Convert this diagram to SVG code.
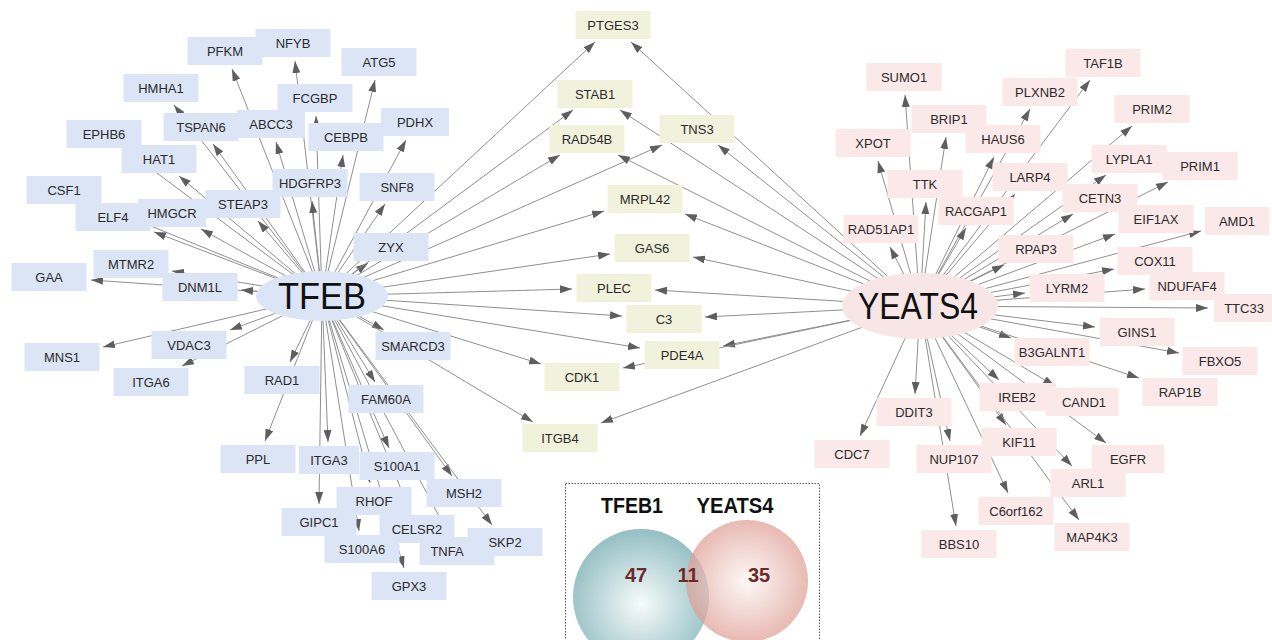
<svg xmlns="http://www.w3.org/2000/svg" width="1272" height="640" viewBox="0 0 1272 640">
<defs>
<marker id="ah" viewBox="0 0 12 8" refX="12" refY="4" markerWidth="12" markerHeight="8" markerUnits="userSpaceOnUse" orient="auto"><path d="M0,0 L12,4 L0,8 z" fill="#5e5e5e"/></marker>
<radialGradient id="gl" cx="0.5" cy="0.55" r="0.55"><stop offset="0" stop-color="#f7fbfb"/><stop offset="1" stop-color="#94bfc3"/></radialGradient>
<radialGradient id="gr" cx="0.5" cy="0.5" r="0.55"><stop offset="0" stop-color="#fdf6f4"/><stop offset="1" stop-color="#dc968b"/></radialGradient>
<style>
.e{stroke:#8f8f8f;stroke-width:1;fill:none;marker-end:url(#ah)}
.b rect{fill:#dce5f6}
.y rect{fill:#f1f2dc}
.p rect{fill:#fbe8e8}
text{font-family:"Liberation Sans",Arial,sans-serif;font-size:13px;fill:#2b2b2b;text-anchor:middle}
.hub{font-size:36px;fill:#111}
.vt{font-size:22px;font-weight:bold;fill:#111}
.vn{font-size:20px;font-weight:bold;fill:#6b2b2b}
</style>
</defs>
<rect width="1272" height="640" fill="#fff"/>
<g id="connectors">
<path class="e" d="M322,296L232,69"/><path class="e" d="M322,296L295,61"/><path class="e" d="M322,296L375,80"/><path class="e" d="M322,296L174,105"/><path class="e" d="M322,296L316,116"/><path class="e" d="M322,296L213,144"/><path class="e" d="M322,296L276,142"/><path class="e" d="M322,296L126,150"/><path class="e" d="M322,296L343,155"/><path class="e" d="M322,296L406,140"/><path class="e" d="M322,296L179,176"/><path class="e" d="M322,296L102,206"/><path class="e" d="M322,296L312,201"/><path class="e" d="M322,296L385,204"/><path class="e" d="M322,296L258,221"/><path class="e" d="M322,296L201,229"/><path class="e" d="M322,296L154,232"/><path class="e" d="M322,296L368,263"/><path class="e" d="M322,296L91,280"/><path class="e" d="M322,296L172,271"/><path class="e" d="M322,296L241,290"/><path class="e" d="M322,296L230,330"/><path class="e" d="M322,296L103,347"/><path class="e" d="M322,296L182,366"/><path class="e" d="M322,296L384,330"/><path class="e" d="M322,296L290,362"/><path class="e" d="M322,296L375,382"/><path class="e" d="M322,296L265,441"/><path class="e" d="M322,296L328,442"/><path class="e" d="M322,296L389,448"/><path class="e" d="M322,296L452,476"/><path class="e" d="M322,296L370,483"/><path class="e" d="M322,296L319,504"/><path class="e" d="M322,296L410,511"/><path class="e" d="M322,296L492,525"/><path class="e" d="M322,296L359,531"/><path class="e" d="M322,296L448,533"/><path class="e" d="M322,296L404,568"/>
<path class="e" d="M322,296L595,42"/><path class="e" d="M322,296L573,110"/><path class="e" d="M322,296L560,155"/><path class="e" d="M322,296L662,145"/><path class="e" d="M322,296L604,211"/><path class="e" d="M322,296L610,254"/><path class="e" d="M322,296L572,289"/><path class="e" d="M322,296L622,316"/><path class="e" d="M322,296L640,348"/><path class="e" d="M322,296L541,364"/><path class="e" d="M322,296L533,422"/>
<path class="e" d="M920,306L631,42"/><path class="e" d="M920,306L620,110"/><path class="e" d="M920,306L618,155"/><path class="e" d="M920,306L718,145"/><path class="e" d="M920,306L685,214"/><path class="e" d="M920,306L693,257"/><path class="e" d="M920,306L655,290"/><path class="e" d="M920,306L705,317"/><path class="e" d="M920,306L723,346"/><path class="e" d="M920,306L623,368"/><path class="e" d="M920,306L601,423"/>
<path class="e" d="M920,306L1090,80"/><path class="e" d="M920,306L905,95"/><path class="e" d="M920,306L1030,109"/><path class="e" d="M920,306L1132,126"/><path class="e" d="M920,306L946,137"/><path class="e" d="M920,306L878,161"/><path class="e" d="M920,306L994,157"/><path class="e" d="M920,306L1106,175"/><path class="e" d="M920,306L1168,182"/><path class="e" d="M920,306L926,202"/><path class="e" d="M920,306L1015,194"/><path class="e" d="M920,306L1073,214"/><path class="e" d="M920,306L966,228"/><path class="e" d="M920,306L890,247"/><path class="e" d="M920,306L1115,234"/><path class="e" d="M920,306L1201,231"/><path class="e" d="M920,306L1004,265"/><path class="e" d="M920,306L1114,269"/><path class="e" d="M920,306L1025,293"/><path class="e" d="M920,306L1145,289"/><path class="e" d="M920,306L1208,308"/><path class="e" d="M920,306L1095,327"/><path class="e" d="M920,306L1011,338"/><path class="e" d="M920,306L1179,353"/><path class="e" d="M920,306L1139,378"/><path class="e" d="M920,306L999,380"/><path class="e" d="M920,306L1055,386"/><path class="e" d="M920,306L915,394"/><path class="e" d="M920,306L860,436"/><path class="e" d="M920,306L950,441"/><path class="e" d="M920,306L1006,425"/><path class="e" d="M920,306L1106,443"/><path class="e" d="M920,306L1072,466"/><path class="e" d="M920,306L1008,493"/><path class="e" d="M920,306L1079,520"/><path class="e" d="M920,306L956,526"/>
</g>
<g id="TFEB"><ellipse cx="322" cy="296" rx="66" ry="25" fill="#dce5f6"/><text class="hub" x="322" y="309" textLength="88" lengthAdjust="spacingAndGlyphs">TFEB</text></g>
<g id="YEATS4-hub"><ellipse cx="920" cy="306" rx="78" ry="33" fill="#f8e6e6"/><text class="hub" x="918" y="319" textLength="120" lengthAdjust="spacingAndGlyphs">YEATS4</text></g>
<g id="n-PFKM" class="b"><rect x="187.5" y="37" width="75" height="28"/><text x="225" y="55.5">PFKM</text></g>
<g id="n-NFYB" class="b"><rect x="255.5" y="29" width="75" height="28"/><text x="293" y="47.5">NFYB</text></g>
<g id="n-ATG5" class="b"><rect x="341.5" y="48" width="75" height="28"/><text x="379" y="66.5">ATG5</text></g>
<g id="n-HMHA1" class="b"><rect x="123.5" y="74" width="75" height="28"/><text x="161" y="92.5">HMHA1</text></g>
<g id="n-FCGBP" class="b"><rect x="277.5" y="84" width="75" height="28"/><text x="315" y="102.5">FCGBP</text></g>
<g id="n-TSPAN6" class="b"><rect x="163.5" y="113" width="75" height="28"/><text x="201" y="131.5">TSPAN6</text></g>
<g id="n-ABCC3" class="b"><rect x="237" y="110" width="68" height="28"/><text x="271" y="128.5">ABCC3</text></g>
<g id="n-EPHB6" class="b"><rect x="66.5" y="120" width="75" height="28"/><text x="104" y="138.5">EPHB6</text></g>
<g id="n-CEBPB" class="b"><rect x="308.5" y="123" width="75" height="28"/><text x="346" y="141.5">CEBPB</text></g>
<g id="n-PDHX" class="b"><rect x="381" y="108" width="68" height="28"/><text x="415" y="126.5">PDHX</text></g>
<g id="n-HAT1" class="b"><rect x="121.5" y="145" width="75" height="28"/><text x="159" y="163.5">HAT1</text></g>
<g id="n-CSF1" class="b"><rect x="26.5" y="176" width="75" height="28"/><text x="64" y="194.5">CSF1</text></g>
<g id="n-HDGFRP3" class="b"><rect x="272.5" y="169" width="75" height="28"/><text x="310" y="187.5">HDGFRP3</text></g>
<g id="n-SNF8" class="b"><rect x="359.5" y="173" width="75" height="28"/><text x="397" y="191.5">SNF8</text></g>
<g id="n-STEAP3" class="b"><rect x="205.5" y="190" width="75" height="28"/><text x="243" y="208.5">STEAP3</text></g>
<g id="n-ELF4" class="b"><rect x="75.5" y="203" width="75" height="28"/><text x="113" y="221.5">ELF4</text></g>
<g id="n-HMGCR" class="b"><rect x="138" y="199" width="68" height="28"/><text x="172" y="217.5">HMGCR</text></g>
<g id="n-ZYX" class="b"><rect x="353.5" y="233" width="75" height="28"/><text x="391" y="251.5">ZYX</text></g>
<g id="n-GAA" class="b"><rect x="11.5" y="263" width="75" height="28"/><text x="49" y="281.5">GAA</text></g>
<g id="n-MTMR2" class="b"><rect x="93.5" y="250" width="75" height="28"/><text x="131" y="268.5">MTMR2</text></g>
<g id="n-DNM1L" class="b"><rect x="162.5" y="273" width="75" height="28"/><text x="200" y="291.5">DNM1L</text></g>
<g id="n-VDAC3" class="b"><rect x="151.5" y="331" width="75" height="28"/><text x="189" y="349.5">VDAC3</text></g>
<g id="n-MNS1" class="b"><rect x="24.5" y="343" width="75" height="28"/><text x="62" y="361.5">MNS1</text></g>
<g id="n-ITGA6" class="b"><rect x="113.5" y="368" width="75" height="28"/><text x="151" y="386.5">ITGA6</text></g>
<g id="n-SMARCD3" class="b"><rect x="375.5" y="332" width="75" height="28"/><text x="413" y="350.5">SMARCD3</text></g>
<g id="n-RAD1" class="b"><rect x="244.5" y="366" width="75" height="28"/><text x="282" y="384.5">RAD1</text></g>
<g id="n-FAM60A" class="b"><rect x="348.5" y="385" width="75" height="28"/><text x="386" y="403.5">FAM60A</text></g>
<g id="n-PPL" class="b"><rect x="220.5" y="445" width="75" height="28"/><text x="258" y="463.5">PPL</text></g>
<g id="n-ITGA3" class="b"><rect x="299" y="446" width="60" height="28"/><text x="329" y="464.5">ITGA3</text></g>
<g id="n-S100A1" class="b"><rect x="359.5" y="452" width="75" height="28"/><text x="397" y="470.5">S100A1</text></g>
<g id="n-MSH2" class="b"><rect x="426.5" y="479" width="75" height="28"/><text x="464" y="497.5">MSH2</text></g>
<g id="n-S100A6" class="b"><rect x="324.5" y="535" width="75" height="28"/><text x="362" y="553.5">S100A6</text></g>
<g id="n-TNFA" class="b"><rect x="419.5" y="537" width="75" height="28"/><text x="447" y="555.5">TNFA</text></g>
<g id="n-GIPC1" class="b"><rect x="281.5" y="508" width="75" height="28"/><text x="319" y="526.5">GIPC1</text></g>
<g id="n-RHOF" class="b"><rect x="336.5" y="487" width="75" height="28"/><text x="374" y="505.5">RHOF</text></g>
<g id="n-CELSR2" class="b"><rect x="379.5" y="515" width="75" height="28"/><text x="417" y="533.5">CELSR2</text></g>
<g id="n-SKP2" class="b"><rect x="467.5" y="528" width="75" height="28"/><text x="505" y="546.5">SKP2</text></g>
<g id="n-GPX3" class="b"><rect x="371.5" y="572" width="75" height="28"/><text x="409" y="590.5">GPX3</text></g>
<g id="n-PTGES3" class="y"><rect x="575.5" y="11" width="75" height="28"/><text x="613" y="29.5">PTGES3</text></g>
<g id="n-STAB1" class="y"><rect x="557.5" y="80" width="75" height="28"/><text x="595" y="98.5">STAB1</text></g>
<g id="n-RAD54B" class="y"><rect x="549.5" y="125" width="75" height="28"/><text x="587" y="143.5">RAD54B</text></g>
<g id="n-TNS3" class="y"><rect x="659.5" y="115" width="75" height="28"/><text x="697" y="133.5">TNS3</text></g>
<g id="n-MRPL42" class="y"><rect x="607.5" y="185" width="75" height="28"/><text x="645" y="203.5">MRPL42</text></g>
<g id="n-GAS6" class="y"><rect x="614.5" y="234" width="75" height="28"/><text x="652" y="252.5">GAS6</text></g>
<g id="n-PLEC" class="y"><rect x="576.5" y="274" width="75" height="28"/><text x="614" y="292.5">PLEC</text></g>
<g id="n-C3" class="y"><rect x="626.5" y="305" width="75" height="28"/><text x="664" y="323.5">C3</text></g>
<g id="n-PDE4A" class="y"><rect x="644.5" y="341" width="75" height="28"/><text x="682" y="359.5">PDE4A</text></g>
<g id="n-CDK1" class="y"><rect x="544.5" y="363" width="75" height="28"/><text x="582" y="381.5">CDK1</text></g>
<g id="n-ITGB4" class="y"><rect x="522.5" y="424" width="75" height="28"/><text x="560" y="442.5">ITGB4</text></g>
<g id="n-TAF1B" class="p"><rect x="1065.5" y="49" width="75" height="28"/><text x="1103" y="67.5">TAF1B</text></g>
<g id="n-SUMO1" class="p"><rect x="866.5" y="63" width="75" height="28"/><text x="904" y="81.5">SUMO1</text></g>
<g id="n-PLXNB2" class="p"><rect x="1002.5" y="78" width="75" height="28"/><text x="1040" y="96.5">PLXNB2</text></g>
<g id="n-PRIM2" class="p"><rect x="1114.5" y="95" width="75" height="28"/><text x="1152" y="113.5">PRIM2</text></g>
<g id="n-BRIP1" class="p"><rect x="911.5" y="105" width="75" height="28"/><text x="949" y="123.5">BRIP1</text></g>
<g id="n-XPOT" class="p"><rect x="835.5" y="129" width="75" height="28"/><text x="873" y="147.5">XPOT</text></g>
<g id="n-HAUS6" class="p"><rect x="965.5" y="125" width="75" height="28"/><text x="1003" y="143.5">HAUS6</text></g>
<g id="n-LYPLA1" class="p"><rect x="1091.5" y="145" width="75" height="28"/><text x="1129" y="163.5">LYPLA1</text></g>
<g id="n-PRIM1" class="p"><rect x="1162.5" y="152" width="75" height="28"/><text x="1200" y="170.5">PRIM1</text></g>
<g id="n-TTK" class="p"><rect x="887.5" y="170" width="75" height="28"/><text x="925" y="188.5">TTK</text></g>
<g id="n-LARP4" class="p"><rect x="992.5" y="163" width="75" height="28"/><text x="1030" y="181.5">LARP4</text></g>
<g id="n-CETN3" class="p"><rect x="1062.5" y="184" width="75" height="28"/><text x="1100" y="202.5">CETN3</text></g>
<g id="n-RACGAP1" class="p"><rect x="938.5" y="197" width="75" height="28"/><text x="976" y="215.5">RACGAP1</text></g>
<g id="n-RAD51AP1" class="p"><rect x="843.5" y="215" width="75" height="28"/><text x="881" y="233.5">RAD51AP1</text></g>
<g id="n-EIF1AX" class="p"><rect x="1118.5" y="205" width="75" height="28"/><text x="1156" y="223.5">EIF1AX</text></g>
<g id="n-AMD1" class="p"><rect x="1205" y="207" width="64" height="28"/><text x="1237" y="225.5">AMD1</text></g>
<g id="n-RPAP3" class="p"><rect x="998.5" y="235" width="75" height="28"/><text x="1036" y="253.5">RPAP3</text></g>
<g id="n-COX11" class="p"><rect x="1117.5" y="247" width="75" height="28"/><text x="1155" y="265.5">COX11</text></g>
<g id="n-LYRM2" class="p"><rect x="1029.5" y="274" width="75" height="28"/><text x="1067" y="292.5">LYRM2</text></g>
<g id="n-NDUFAF4" class="p"><rect x="1149.5" y="272" width="75" height="28"/><text x="1187" y="290.5">NDUFAF4</text></g>
<g id="n-TTC33" class="p"><rect x="1214" y="294" width="60" height="28"/><text x="1244" y="312.5">TTC33</text></g>
<g id="n-GINS1" class="p"><rect x="1099.5" y="318" width="75" height="28"/><text x="1137" y="336.5">GINS1</text></g>
<g id="n-B3GALNT1" class="p"><rect x="1014.5" y="338" width="75" height="28"/><text x="1052" y="356.5">B3GALNT1</text></g>
<g id="n-FBXO5" class="p"><rect x="1182.5" y="347" width="75" height="28"/><text x="1220" y="365.5">FBXO5</text></g>
<g id="n-RAP1B" class="p"><rect x="1142.5" y="378" width="75" height="28"/><text x="1180" y="396.5">RAP1B</text></g>
<g id="n-CAND1" class="p"><rect x="1045.5" y="388" width="73" height="28"/><text x="1084" y="406.5">CAND1</text></g>
<g id="n-IREB2" class="p"><rect x="979.5" y="383" width="75" height="28"/><text x="1017" y="401.5">IREB2</text></g>
<g id="n-DDIT3" class="p"><rect x="876.5" y="398" width="75" height="28"/><text x="914" y="416.5">DDIT3</text></g>
<g id="n-CDC7" class="p"><rect x="814.5" y="440" width="75" height="28"/><text x="852" y="458.5">CDC7</text></g>
<g id="n-KIF11" class="p"><rect x="981.5" y="428" width="75" height="28"/><text x="1019" y="446.5">KIF11</text></g>
<g id="n-NUP107" class="p"><rect x="916.5" y="445" width="75" height="28"/><text x="954" y="463.5">NUP107</text></g>
<g id="n-EGFR" class="p"><rect x="1091.5" y="445" width="73" height="28"/><text x="1128" y="463.5">EGFR</text></g>
<g id="n-ARL1" class="p"><rect x="1050.5" y="469" width="75" height="28"/><text x="1088" y="487.5">ARL1</text></g>
<g id="n-C6orf162" class="p"><rect x="978.5" y="497" width="75" height="28"/><text x="1016" y="515.5">C6orf162</text></g>
<g id="n-MAP4K3" class="p"><rect x="1054.5" y="523" width="75" height="28"/><text x="1092" y="541.5">MAP4K3</text></g>
<g id="n-BBS10" class="p"><rect x="921.5" y="530" width="75" height="28"/><text x="959" y="548.5">BBS10</text></g>
<g id="venn">
<rect x="565.5" y="483.5" width="254" height="200" fill="#fff" stroke="#555" stroke-width="1" stroke-dasharray="1.5,1.5"/>
<circle cx="641" cy="597" r="68" fill="url(#gl)"/>
<circle cx="747" cy="581" r="61" fill="url(#gr)" opacity="0.72"/>
<text class="vt" x="632" y="513" textLength="62" lengthAdjust="spacingAndGlyphs">TFEB1</text>
<text class="vt" x="735" y="513" textLength="77" lengthAdjust="spacingAndGlyphs">YEATS4</text>
<text class="vn" x="636" y="582">47</text>
<text class="vn" x="688" y="582">11</text>
<text class="vn" x="759" y="582">35</text>
</g>
</svg>
